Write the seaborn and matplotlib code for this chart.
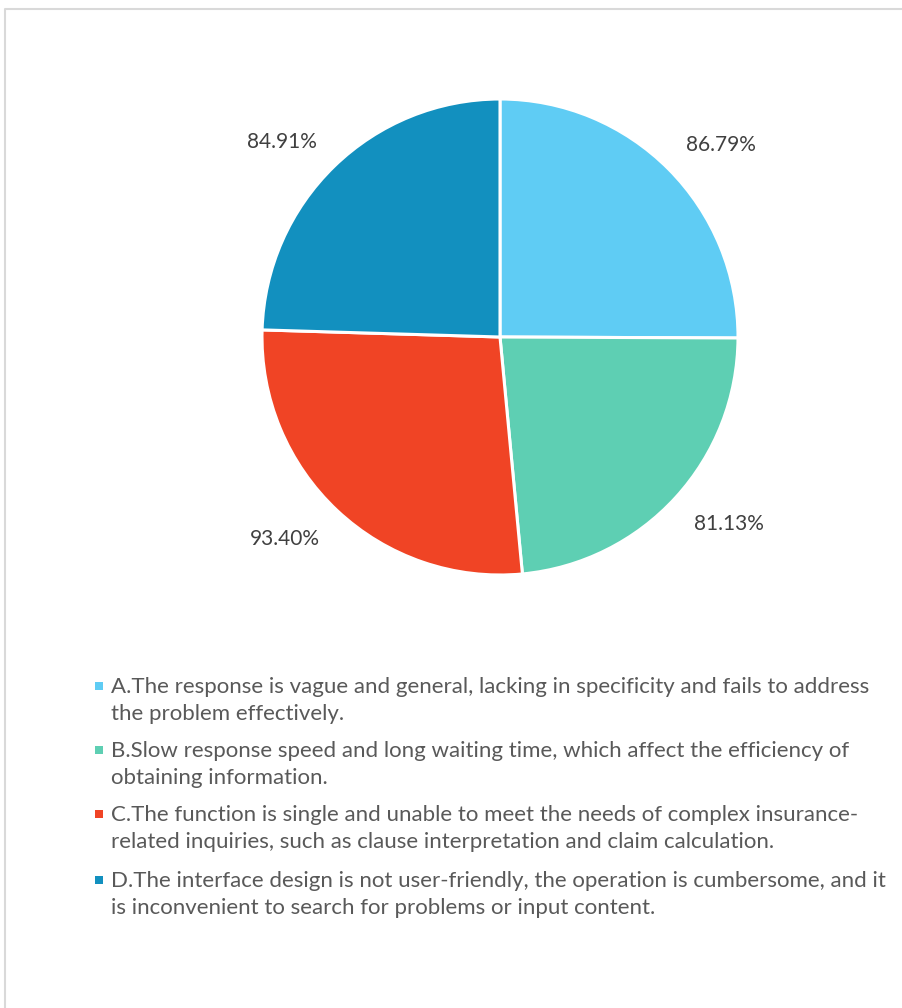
import numpy as np
import matplotlib
matplotlib.use('Agg')
import matplotlib.pyplot as plt
import seaborn as sns
from matplotlib.patches import Rectangle
from matplotlib.lines import Line2D

# Data
categories = ['A', 'B', 'C', 'D']
values = [86.79, 81.13, 93.40, 84.91]
value_labels = ['86.79%', '81.13%', '93.40%', '84.91%']
legend_texts = [
    ['A.The response is vague and general, lacking in specificity and fails to address',
     'the problem effectively.'],
    ['B.Slow response speed and long waiting time, which affect the efficiency of',
     'obtaining information.'],
    ['C.The function is single and unable to meet the needs of complex insurance-',
     'related inquiries, such as clause interpretation and claim calculation.'],
    ['D.The interface design is not user-friendly, the operation is cumbersome, and it',
     'is inconvenient to search for problems or input content.'],
]
colors = ['#5FCCF4', '#5ECFB3', '#F04425', '#1290BF']

sns.set_theme(style='white')
plt.rcParams['font.family'] = ['Lato', 'DejaVu Sans']
palette = sns.color_palette(colors)

W, H = 903, 1008
fig = plt.figure(figsize=(W / 100, H / 100), dpi=100)

# Outer frame (top and left edges visible)
fig.add_artist(Line2D([5 / W, 5 / W, 1.0], [0.0, 1 - 9 / H, 1 - 9 / H],
                      transform=fig.transFigure, color='#D9D9D9', lw=1.5))

# Pie
cx, cy, r = 500, 337, 238
ax = fig.add_axes([(cx - r) / W, (H - cy - r) / H, 2 * r / W, 2 * r / H])
wedges, _ = ax.pie(values, colors=palette, startangle=90, counterclock=False,
                   radius=1, wedgeprops=dict(edgecolor='white', linewidth=2.2))
ax.set_xlim(-1, 1)
ax.set_ylim(-1, 1)
ax.set_aspect('equal')
ax.axis('off')

# Outside-end labels: anchor on the mid-angle ray, box pushed outward
for w, lab in zip(wedges, value_labels):
    ang = np.deg2rad((w.theta1 + w.theta2) / 2)
    x, y = 1.105 * np.cos(ang), 1.105 * np.sin(ang)
    ax.text(x, y, lab, ha='left' if x > 0 else 'right',
            va='baseline' if y > 0 else 'top',
            fontsize=15, color='#404040', clip_on=False)

# Legend (drawn by hand for wrapped Excel-like entries)
baselines = [693, 757, 821, 887]
for c, lines, b in zip(palette, legend_texts, baselines):
    fig.add_artist(Rectangle((95 / W, 1 - (b - 3) / H), 8 / W, 8 / H,
                             transform=fig.transFigure, color=c, lw=0))
    for i, line in enumerate(lines):
        fig.text(111 / W, 1 - (b + 27 * i) / H, line, ha='left', va='baseline',
                 fontsize=16, color='#595959')

fig.savefig('out.png', dpi=100)
